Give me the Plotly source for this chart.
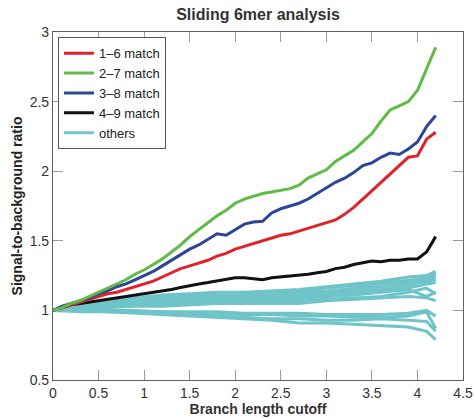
import plotly.graph_objects as go

# ---- data ----
x_main = [round(i * 0.1, 1) for i in range(43)]  # sample positions 0.0 .. 4.2

match_1_6 = [1.00, 1.02, 1.04, 1.06, 1.08, 1.10, 1.12, 1.13, 1.15, 1.17,
             1.19, 1.21, 1.24, 1.27, 1.30, 1.32, 1.34, 1.36, 1.39, 1.41,
             1.44, 1.46, 1.48, 1.50, 1.52, 1.54, 1.55, 1.57, 1.59, 1.61,
             1.63, 1.65, 1.69, 1.74, 1.80, 1.86, 1.92, 1.98, 2.04, 2.10,
             2.11, 2.23, 2.28]
match_2_7 = [1.00, 1.02, 1.05, 1.07, 1.10, 1.13, 1.16, 1.19, 1.22, 1.26,
             1.29, 1.33, 1.37, 1.42, 1.47, 1.53, 1.58, 1.63, 1.68, 1.72,
             1.77, 1.80, 1.82, 1.84, 1.85, 1.86, 1.875, 1.90, 1.95, 1.98,
             2.01, 2.07, 2.11, 2.15, 2.21, 2.27, 2.36, 2.44, 2.47, 2.50,
             2.58, 2.74, 2.89]
match_3_8 = [1.00, 1.03, 1.05, 1.07, 1.09, 1.12, 1.14, 1.17, 1.19, 1.22,
             1.25, 1.28, 1.32, 1.36, 1.40, 1.44, 1.47, 1.51, 1.55, 1.54,
             1.58, 1.62, 1.635, 1.64, 1.70, 1.73, 1.75, 1.77, 1.80, 1.84,
             1.88, 1.92, 1.95, 1.99, 2.04, 2.06, 2.10, 2.13, 2.12, 2.16,
             2.21, 2.32, 2.40]
match_4_9 = [1.00, 1.02, 1.04, 1.05, 1.06, 1.067, 1.075, 1.085, 1.095, 1.105,
             1.115, 1.125, 1.14, 1.15, 1.165, 1.18, 1.19, 1.20, 1.21, 1.225,
             1.235, 1.235, 1.23, 1.22, 1.235, 1.24, 1.25, 1.255, 1.26, 1.27,
             1.28, 1.30, 1.31, 1.33, 1.34, 1.355, 1.35, 1.36, 1.36, 1.37,
             1.37, 1.42, 1.53]

x_others = [0, 0.3, 0.6, 0.9, 1.2, 1.5, 1.8, 2.1, 2.4, 2.7, 3.0, 3.3, 3.6, 3.9, 4.1, 4.2]
others = [
    [1.00, 1.04, 1.07, 1.09, 1.11, 1.12, 1.13, 1.13, 1.14, 1.15, 1.17, 1.19, 1.21, 1.24, 1.25, 1.28],
    [1.00, 1.03, 1.06, 1.08, 1.10, 1.11, 1.12, 1.12, 1.13, 1.14, 1.16, 1.18, 1.20, 1.22, 1.23, 1.27],
    [1.00, 1.03, 1.05, 1.07, 1.09, 1.10, 1.11, 1.11, 1.12, 1.13, 1.14, 1.16, 1.19, 1.21, 1.24, 1.25],
    [1.00, 1.03, 1.05, 1.06, 1.08, 1.09, 1.10, 1.10, 1.11, 1.12, 1.13, 1.15, 1.17, 1.20, 1.22, 1.24],
    [1.00, 1.02, 1.04, 1.06, 1.07, 1.08, 1.09, 1.09, 1.10, 1.10, 1.12, 1.14, 1.15, 1.18, 1.21, 1.22],
    [1.00, 1.02, 1.04, 1.05, 1.06, 1.07, 1.08, 1.08, 1.09, 1.09, 1.11, 1.12, 1.14, 1.16, 1.19, 1.20],
    [1.00, 1.02, 1.03, 1.04, 1.05, 1.06, 1.07, 1.07, 1.08, 1.08, 1.10, 1.11, 1.13, 1.15, 1.10, 1.13],
    [1.00, 1.01, 1.03, 1.04, 1.04, 1.05, 1.06, 1.06, 1.07, 1.07, 1.08, 1.09, 1.10, 1.13, 1.16, 1.12],
    [1.00, 1.01, 1.02, 1.03, 1.03, 1.04, 1.05, 1.05, 1.05, 1.05, 1.07, 1.08, 1.09, 1.10, 1.09, 1.07],
    [1.00, 1.00, 1.00, 1.00, 0.99, 0.99, 0.99, 0.98, 0.98, 0.98, 0.97, 0.97, 0.97, 0.98, 1.00, 0.96],
    [1.00, 1.00, 1.00, 0.99, 0.99, 0.98, 0.98, 0.97, 0.97, 0.96, 0.96, 0.95, 0.95, 0.96, 0.99, 0.87],
    [1.00, 1.00, 0.99, 0.99, 0.98, 0.97, 0.96, 0.95, 0.94, 0.94, 0.93, 0.93, 0.94, 0.93, 0.92, 0.85],
    [1.00, 0.99, 0.99, 0.98, 0.97, 0.96, 0.95, 0.94, 0.93, 0.91, 0.91, 0.90, 0.89, 0.88, 0.85, 0.79],
]

series_names = ["1\u20136 match", "2\u20137 match", "3\u20138 match", "4\u20139 match", "others"]
series_colors = ["#E2222B", "#5DBB46", "#2B4597", "#111111", "#6EC4C9"]

x_ticks = [0, 0.5, 1, 1.5, 2, 2.5, 3, 3.5, 4, 4.5]
x_ticklabels = ["0", "0.5", "1", "1.5", "2", "2.5", "3", "3.5", "4", "4.5"]
y_ticks = [0.5, 1, 1.5, 2, 2.5, 3]
y_ticklabels = ["0.5", "1", "1.5", "2", "2.5", "3"]

FONT = "Liberation Sans, Arial, Helvetica, sans-serif"
LW = 3

fig = go.Figure()

# others first (drawn beneath)
for i, ys in enumerate(others):
    fig.add_trace(go.Scatter(
        x=x_others, y=ys, mode="lines",
        line=dict(color=series_colors[4], width=LW),
        name=series_names[4], showlegend=(i == 0), legendrank=5,
        hoverinfo="skip"))

main_series = [match_1_6, match_2_7, match_3_8, match_4_9]
for k in [3, 0, 2, 1]:
    fig.add_trace(go.Scatter(
        x=x_main, y=main_series[k], mode="lines",
        line=dict(color=series_colors[k], width=LW),
        name=series_names[k], legendrank=k + 1))

axis_common = dict(
    showline=True, linecolor="#606060", linewidth=1.2, mirror="allticks",
    ticks="inside", ticklen=10, tickcolor="#9a9a9a", tickwidth=1,
    showgrid=False, zeroline=False, automargin=False,
    tickfont=dict(family=FONT, size=14, color="#333333"),
)

fig.update_xaxes(range=[0, 4.5], tickvals=x_ticks, ticktext=x_ticklabels,
                 title=dict(text="<b>Branch length cutoff</b>", standoff=1,
                            font=dict(family=FONT, size=14, color="#333333")),
                 **axis_common)
fig.update_yaxes(range=[0.5, 3], tickvals=y_ticks, ticktext=y_ticklabels,
                 title=dict(text="<b>Signal-to-background ratio</b>", standoff=3,
                            font=dict(family=FONT, size=14, color="#222222")),
                 **axis_common)

fig.update_layout(
    template="none",
    width=474, height=419,
    margin=dict(l=53, r=11, t=32, b=39, autoexpand=False),
    paper_bgcolor="white", plot_bgcolor="white",
    title=dict(text="<b>Sliding 6mer analysis</b>", x=0.5443, xanchor="center",
               y=0.965, yanchor="middle",
               font=dict(family=FONT, size=16, color="#333333")),
    legend=dict(x=0.012, y=0.985, xanchor="left", yanchor="top",
                bgcolor="white", bordercolor="#555555", borderwidth=1,
                font=dict(family=FONT, size=13, color="#222222"),
                tracegroupgap=0, itemwidth=30),
    showlegend=True,
)

fig.write_html("out.html",
               config={"displayModeBar": False},
               post_script="document.body.style.margin='0';document.body.style.overflow='hidden';")
